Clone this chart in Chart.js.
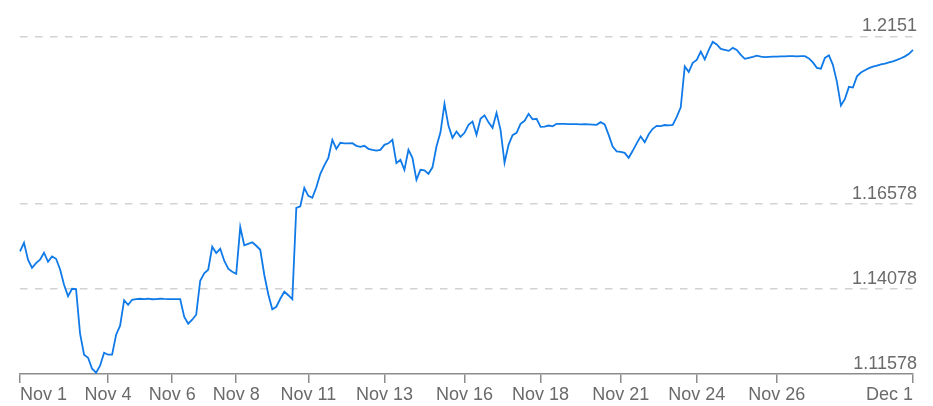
<!DOCTYPE html>
<html>
<head>
<meta charset="utf-8">
<script src="https://cdn.jsdelivr.net/npm/chart.js@4/dist/chart.umd.min.js"></script>
<style>
  html, body { margin: 0; padding: 0; background: #fff; }
  #wrap { width: 933px; height: 406px; position: relative; }
</style>
</head>
<body>
<div id="wrap"><canvas id="c"></canvas></div>
<script>
// Rate series, sampled evenly along the time axis (trading periods)
const rates = [
  1.15184, 1.15440, 1.14940, 1.14704, 1.14843, 1.14940, 1.15146, 1.14881, 1.15037, 1.14969,
  1.14660, 1.14204, 1.13866, 1.14087, 1.14078, 1.12763, 1.12146, 1.12057, 1.11734, 1.11616,
  1.11822, 1.12205, 1.12146, 1.12146, 1.12734, 1.12999, 1.13749, 1.13616, 1.13763, 1.13784,
  1.13793, 1.13784, 1.13793, 1.13778, 1.13784, 1.13793, 1.13787, 1.13784, 1.13781, 1.13784,
  1.13784, 1.13263, 1.13057, 1.13175, 1.13322, 1.14322, 1.14543, 1.14646, 1.15322, 1.15137,
  1.15263, 1.14910, 1.14675, 1.14587, 1.14528, 1.15902, 1.15366, 1.15410, 1.15455, 1.15352,
  1.15234, 1.14499, 1.13925, 1.13484, 1.13557, 1.13793, 1.13999, 1.13896, 1.13778, 1.16469,
  1.16513, 1.17057, 1.16822, 1.16763, 1.17072, 1.17469, 1.17719, 1.17940, 1.18469, 1.18205,
  1.18381, 1.18366, 1.18366, 1.18372, 1.18293, 1.18263, 1.18293, 1.18205, 1.18175, 1.18154,
  1.18175, 1.18322, 1.18366, 1.18469, 1.17784, 1.17881, 1.17587, 1.18175, 1.17940, 1.17293,
  1.17587, 1.17572, 1.17469, 1.17660, 1.18272, 1.18690, 1.19528, 1.18881, 1.18528, 1.18713,
  1.18557, 1.18675, 1.18910, 1.19007, 1.18616, 1.19087, 1.19190, 1.18984, 1.18822, 1.19263,
  1.18763, 1.17793, 1.18322, 1.18607, 1.18675, 1.18940, 1.19028, 1.19234, 1.19072, 1.19087,
  1.18852, 1.18860, 1.18890, 1.18866, 1.18940, 1.18940, 1.18940, 1.18934, 1.18931, 1.18931,
  1.18925, 1.18928, 1.18925, 1.18919, 1.18910, 1.18990, 1.18925, 1.18616, 1.18272, 1.18131,
  1.18116, 1.18087, 1.17940, 1.18146, 1.18366, 1.18572, 1.18396, 1.18631, 1.18793, 1.18881,
  1.18875, 1.18905, 1.18896, 1.18910, 1.19146, 1.19425, 1.20631, 1.20469, 1.20734, 1.20822,
  1.21066, 1.20837, 1.21116, 1.21352, 1.21278, 1.21146, 1.21116, 1.21087, 1.21175, 1.21116,
  1.20969, 1.20852, 1.20881, 1.20910, 1.20949, 1.20919, 1.20905, 1.20910, 1.20916, 1.20919,
  1.20925, 1.20928, 1.20931, 1.20931, 1.20928, 1.20931, 1.20931, 1.20866, 1.20749, 1.20587,
  1.20563, 1.20881, 1.20955, 1.20675, 1.20175, 1.19478, 1.19675, 1.20028, 1.20007, 1.20337,
  1.20449, 1.20519, 1.20578, 1.20622, 1.20655, 1.20687, 1.20713, 1.20746, 1.20781, 1.20822,
  1.20869, 1.20925, 1.20999, 1.21116
];

// Date labels on the time axis and the sample index where each falls
const dateLabels = ['Nov 1', 'Nov 4', 'Nov 6', 'Nov 8', 'Nov 11', 'Nov 13', 'Nov 16', 'Nov 18', 'Nov 21', 'Nov 24', 'Nov 26', 'Dec 1'];
const dateIndex  = [0, 22, 38, 54, 72, 91, 111, 130, 150, 169, 189, 223];

// Value axis ticks
const yTickValues = [1.11578, 1.14078, 1.16578, 1.2151];
const yTickLabels = ['1.11578', '1.14078', '1.16578', '1.2151'];

const sampleLabels = rates.map((_, i) => String(i));
const FONT = { family: '"Liberation Sans", Arial, sans-serif', size: 18 };
const TEXT = '#6a6a6a';
const AXIS = '#8c8c8c';

new Chart(document.getElementById('c'), {
  type: 'line',
  data: {
    labels: sampleLabels,
    datasets: [{
      data: rates,
      borderColor: '#0f7ae8',
      borderWidth: 1.8,
      pointRadius: 0,
      pointHoverRadius: 0,
      tension: 0,
      fill: false
    }]
  },
  options: {
    responsive: true,
    maintainAspectRatio: false,
    animation: false,
    layout: { padding: { left: 20, right: 20, top: 36.5, bottom: 0 } },
    plugins: { legend: { display: false }, tooltip: { enabled: false } },
    scales: {
      x: {
        type: 'category',
        afterBuildTicks: s => { s.ticks = dateIndex.map(v => ({ value: v })); },
        afterFit: s => { s.height = 32; },
        grid: { display: true, drawOnChartArea: false, drawTicks: true, tickLength: 9, color: AXIS, lineWidth: 1.5 },
        border: { display: true, color: AXIS, width: 1.5 },
        ticks: {
          autoSkip: false, maxRotation: 0, minRotation: 0, align: 'inner', padding: 1,
          color: TEXT, font: FONT,
          callback: v => { const k = dateIndex.indexOf(v); return k >= 0 ? dateLabels[k] : ''; }
        }
      },
      y: {
        position: 'right',
        min: yTickValues[0],
        max: yTickValues[yTickValues.length - 1],
        afterBuildTicks: s => { s.ticks = yTickValues.map(v => ({ value: v })); },
        afterFit: s => { s.width = 0; },
        grid: {
          drawTicks: false,
          lineWidth: 1.5,
          color: c => (c.tick && c.tick.value === yTickValues[0]) ? 'rgba(0,0,0,0)' : '#d2d2d2'
        },
        border: { display: false, dash: [7.5, 7.5] },
        ticks: {
          mirror: true, padding: 4, labelOffset: -10,
          color: TEXT, font: FONT,
          callback: v => { const k = yTickValues.indexOf(v); return k >= 0 ? yTickLabels[k] : ''; }
        }
      }
    }
  }
});
</script>
</body>
</html>
